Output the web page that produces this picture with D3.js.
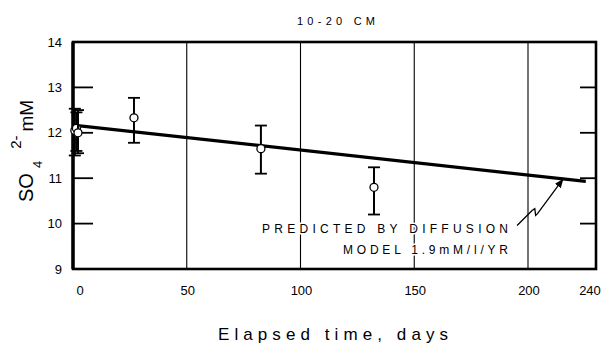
<!DOCTYPE html>
<html>
<head>
<meta charset="utf-8">
<script src="https://cdn.jsdelivr.net/npm/d3@7"></script>
<style>
  body { margin: 0; background: #fff; }
  svg { display: block; }
  text { font-family: "Liberation Sans", Arial, sans-serif; fill: #000; }
</style>
</head>
<body>
<div id="chart"></div>
<script>
// measured sulfate, 10-20 cm depth
var days  = [0.8, 1.5, 2.2, 26.8, 82.6, 132.3];
var means = [12.05, 12.1, 12.0, 12.33, 11.65, 10.8];
var lows  = [11.5, 11.6, 11.55, 11.78, 11.1, 10.2];
var highs = [12.53, 12.45, 12.5, 12.77, 12.16, 11.24];

// diffusion model line (1.9 mM/l/yr)
var modelDays = [0, 234];
var modelVals = [12.17, 10.93];

var xTicks = [0, 50, 100, 150, 200, 240];
var yTicks = [9, 10, 11, 12, 13, 14];
var gridDays = [50, 100, 150, 200];
var innerTicks = [10, 11, 12, 13];

var title = "10-20 CM";
var xTitle = "Elapsed time, days";
var noteLines = ["PREDICTED BY DIFFUSION", "MODEL 1.9mM/l/YR"];
// arrow from note to the model line, in data units
var arrowDays = [195.2, 202.4, 204, 204.5, 205.6, 217, 220.5];
var arrowVals = [9.96, 10.29, 10.33, 10.18, 10.22, 10.8, 10.97];

var cfg = {
  width: 609, height: 343,
  left: 73, right: 596, top: 42, bottom: 269,
  axisStroke: 2.6, gridStroke: 1.1
};

var svg = d3.select("#chart").append("svg")
  .attr("width", cfg.width)
  .attr("height", cfg.height);

// the printed x axis is not quite linear past 200
var x = d3.scaleLinear().domain([0, 200, 240]).range([cfg.left, 528, cfg.right]);
var y = d3.scaleLinear().domain([9, 14]).range([cfg.bottom, cfg.top]);

// vertical grid lines
svg.append("g").selectAll("line")
  .data(gridDays).enter().append("line")
  .attr("x1", d => x(d)).attr("x2", d => x(d))
  .attr("y1", cfg.top).attr("y2", cfg.bottom)
  .attr("stroke", "#000").attr("stroke-width", cfg.gridStroke);

// inward ticks on both sides
svg.append("g").selectAll("line")
  .data(innerTicks).enter().append("line")
  .attr("x1", cfg.left).attr("x2", cfg.left + 20)
  .attr("y1", d => y(d)).attr("y2", d => y(d))
  .attr("stroke", "#000").attr("stroke-width", 1.8);
svg.append("g").selectAll("line")
  .data(innerTicks).enter().append("line")
  .attr("x1", cfg.right - 16).attr("x2", cfg.right)
  .attr("y1", d => y(d)).attr("y2", d => y(d))
  .attr("stroke", "#000").attr("stroke-width", 1.8);

// frame
svg.append("rect")
  .attr("x", cfg.left).attr("y", cfg.top)
  .attr("width", cfg.right - cfg.left).attr("height", cfg.bottom - cfg.top)
  .attr("fill", "none").attr("stroke", "#000").attr("stroke-width", cfg.axisStroke);
svg.append("line")
  .attr("x1", cfg.left).attr("x2", cfg.left)
  .attr("y1", cfg.top).attr("y2", cfg.bottom)
  .attr("stroke", "#000").attr("stroke-width", 3.4);

// tick labels
svg.append("g").selectAll("text")
  .data(xTicks).enter().append("text")
  .attr("x", d => x(d) + (d === 0 ? 7 : d === 240 ? -6 : 1))
  .attr("y", 295)
  .attr("text-anchor", "middle")
  .attr("font-size", 13)
  .text(d => d);
svg.append("g").selectAll("text")
  .data(yTicks).enter().append("text")
  .attr("x", cfg.left - 11)
  .attr("y", d => y(d) + 4.5)
  .attr("text-anchor", "end")
  .attr("font-size", 13)
  .text(d => d);

// model line
var line = d3.line().x(d => x(d[0])).y(d => y(d[1]));
svg.append("path")
  .datum(d3.zip(modelDays, modelVals))
  .attr("d", line)
  .attr("fill", "none").attr("stroke", "#000").attr("stroke-width", 3.2);

// error bars and points
var pts = svg.append("g").selectAll("g")
  .data(d3.range(days.length)).enter().append("g");
pts.append("line")
  .attr("x1", i => x(days[i])).attr("x2", i => x(days[i]))
  .attr("y1", i => y(lows[i])).attr("y2", i => y(highs[i]))
  .attr("stroke", "#000").attr("stroke-width", 2);
pts.append("line")
  .attr("x1", i => x(days[i]) - 6).attr("x2", i => x(days[i]) + 6)
  .attr("y1", i => y(lows[i])).attr("y2", i => y(lows[i]))
  .attr("stroke", "#000").attr("stroke-width", 1.8);
pts.append("line")
  .attr("x1", i => x(days[i]) - 6).attr("x2", i => x(days[i]) + 6)
  .attr("y1", i => y(highs[i])).attr("y2", i => y(highs[i]))
  .attr("stroke", "#000").attr("stroke-width", 1.8);
pts.append("circle")
  .attr("cx", i => x(days[i])).attr("cy", i => y(means[i]))
  .attr("r", 4)
  .attr("fill", "#fff").attr("stroke", "#000").attr("stroke-width", 1.3);

// annotation
svg.append("text")
  .attr("x", 508).attr("y", 233)
  .attr("text-anchor", "end")
  .attr("font-size", 12)
  .attr("textLength", 246).attr("lengthAdjust", "spacing")
  .attr("stroke", "#fff").attr("stroke-width", 3).attr("paint-order", "stroke")
  .text(noteLines[0]);
svg.append("text")
  .attr("x", 508).attr("y", 254)
  .attr("text-anchor", "end")
  .attr("font-size", 12)
  .attr("textLength", 165).attr("lengthAdjust", "spacing")
  .attr("stroke", "#fff").attr("stroke-width", 3).attr("paint-order", "stroke")
  .text(noteLines[1]);

svg.append("defs").append("marker")
  .attr("id", "head")
  .attr("viewBox", "0 0 10 10")
  .attr("refX", 9).attr("refY", 5)
  .attr("markerWidth", 9).attr("markerHeight", 9)
  .attr("markerUnits", "userSpaceOnUse")
  .attr("orient", "auto")
  .append("path").attr("d", "M0,1 L10,5 L0,9 Z").attr("fill", "#000");

svg.append("path")
  .datum(d3.zip(arrowDays, arrowVals))
  .attr("d", line)
  .attr("fill", "none").attr("stroke", "#000").attr("stroke-width", 1.3)
  .attr("marker-end", "url(#head)");

// titles
svg.append("text")
  .attr("x", 336).attr("y", 25)
  .attr("text-anchor", "middle")
  .attr("font-size", 11)
  .attr("textLength", 78).attr("lengthAdjust", "spacing")
  .text(title);

svg.append("text")
  .attr("x", 333).attr("y", 340)
  .attr("text-anchor", "middle")
  .attr("font-size", 17)
  .attr("textLength", 230).attr("lengthAdjust", "spacing")
  .text(xTitle);

var yt = svg.append("text")
  .attr("transform", "translate(33,202) rotate(-90)")
  .attr("font-size", 20);
yt.append("tspan").text("SO");
yt.append("tspan").attr("font-size", 13).attr("dx", 5).attr("dy", 9).text("4");
yt.append("tspan").attr("font-size", 15).attr("dx", 12).attr("dy", -21).text("2-");
yt.append("tspan").attr("font-size", 19).attr("dx", 4).attr("dy", 12).text("mM");
</script>
</body>
</html>
